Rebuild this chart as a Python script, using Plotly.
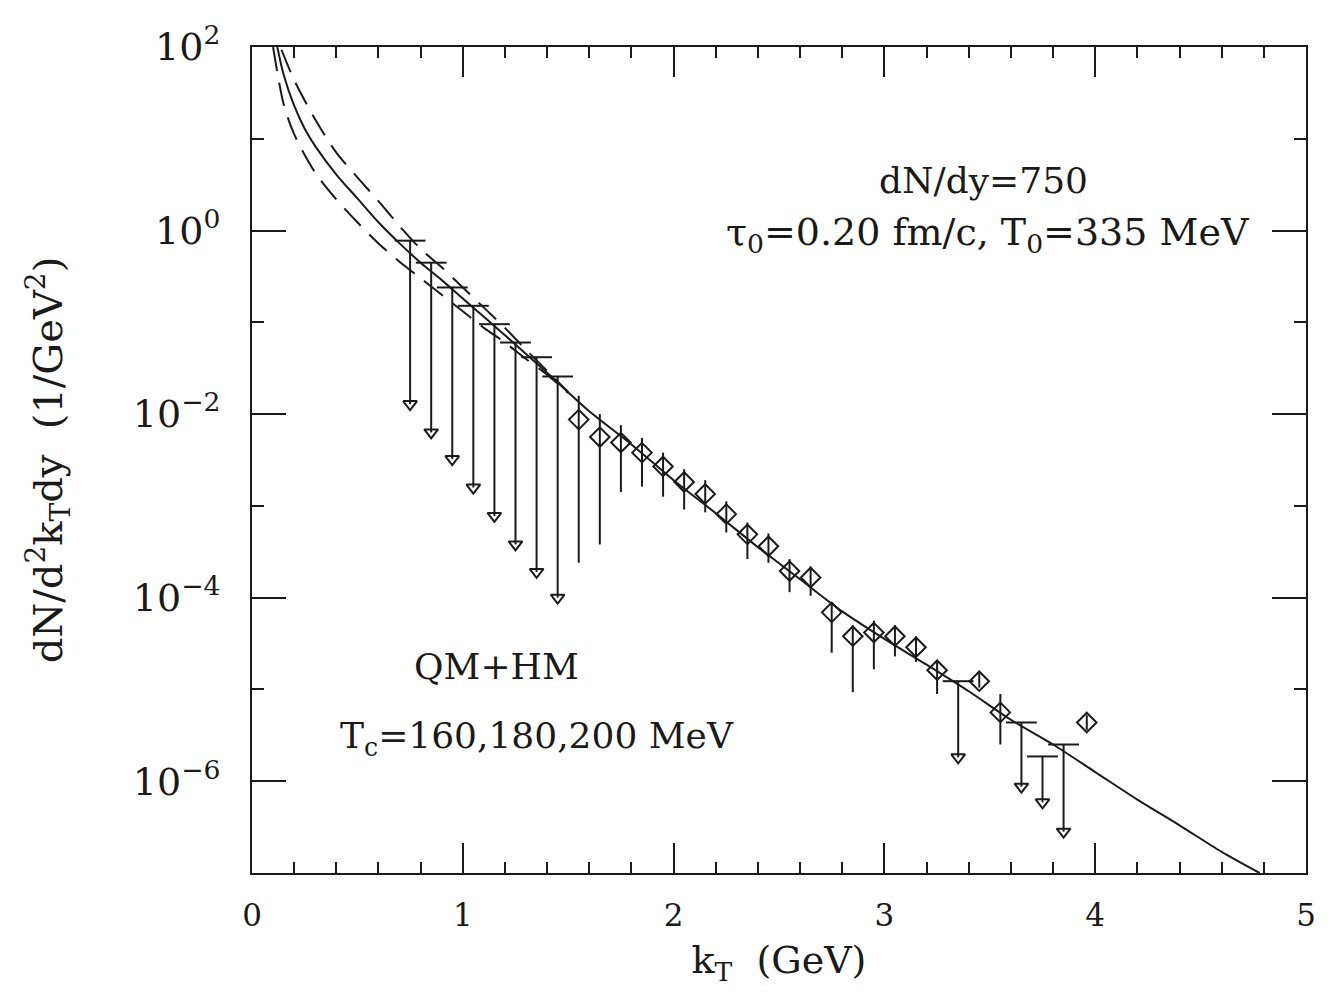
import numpy as np
import plotly.graph_objects as go

# ---- theory curves (log10 of dN/d2kT dy) ----
kt_solid = [0.12, 0.15, 0.2, 0.25, 0.3, 0.4, 0.5, 0.6, 0.7, 0.8, 0.9, 1.0, 1.1, 1.2, 1.4, 1.6,
            1.8, 2.0, 2.2, 2.4, 2.6, 2.8, 3.0, 3.2, 3.4, 3.6, 3.8, 4.0, 4.2, 4.4, 4.6, 4.78]
log_solid = [2.0, 1.70, 1.36, 1.11, 0.92, 0.61, 0.35, 0.09, -0.14, -0.35, -0.54, -0.74, -0.94,
             -1.14, -1.55, -1.97, -2.33, -2.72, -3.08, -3.45, -3.80, -4.15, -4.45, -4.73, -5.02,
             -5.33, -5.60, -5.90, -6.20, -6.48, -6.77, -7.0]

kt_dash_hi = [0.14, 0.2, 0.3, 0.4, 0.5, 0.6, 0.7, 0.8, 0.9, 1.0, 1.1, 1.2, 1.3, 1.4, 1.5]
log_dash_hi = [1.97, 1.64, 1.21, 0.85, 0.58, 0.32, 0.05, -0.20, -0.40, -0.62, -0.84, -1.06,
               -1.30, -1.53, -1.76]

kt_dash_lo = [0.10, 0.15, 0.2, 0.3, 0.4, 0.5, 0.6, 0.7, 0.8, 0.9, 1.0, 1.1, 1.2, 1.3, 1.4, 1.5]
log_dash_lo = [2.0, 1.38, 1.05, 0.63, 0.34, 0.09, -0.14, -0.34, -0.52, -0.70, -0.88, -1.06,
               -1.22, -1.40, -1.57, -1.77]

# ---- upper limits ----
kt_ul = [0.75, 0.85, 0.95, 1.05, 1.15, 1.25, 1.35, 1.45, 3.35, 3.65, 3.75, 3.85]
log_ul_top = [-0.11, -0.35, -0.62, -0.82, -1.02, -1.22, -1.38, -1.59, -4.91, -5.36, -5.73, -5.60]
log_ul_bot = [-1.89, -2.20, -2.49, -2.80, -3.11, -3.42, -3.72, -4.00, -5.74, -6.06, -6.23, -6.55]

# ---- measured points ----
kt_pts = [1.55, 1.65, 1.75, 1.85, 1.95, 2.05, 2.15, 2.25, 2.35, 2.45, 2.55, 2.65, 2.75, 2.85,
          2.95, 3.05, 3.15, 3.25, 3.45, 3.55, 3.96]
log_pts = [-2.06, -2.25, -2.31, -2.42, -2.57, -2.74, -2.87, -3.09, -3.31, -3.44, -3.71, -3.78,
           -4.16, -4.42, -4.38, -4.42, -4.54, -4.79, -4.91, -5.25, -5.36]
log_lo = [-3.62, -3.42, -2.85, -2.79, -2.90, -3.04, -3.07, -3.29, -3.58, -3.62, -3.94, -3.98,
          -4.60, -5.03, -4.78, -4.64, -4.70, -5.05, -4.98, -5.60, -5.44]
log_hi = [-1.80, -2.00, -2.12, -2.26, -2.42, -2.60, -2.72, -2.95, -3.18, -3.30, -3.58, -3.66,
          -4.05, -4.30, -4.25, -4.30, -4.42, -4.68, -4.82, -5.05, -5.28]

# ---- axis ticks ----
y_major_exp = [2, 0, -2, -4, -6]
y_minor_exp = [1, -1, -3, -5]
y_tick_text = ["10<sup>2</sup>", "10<sup>0</sup>", "10<sup>−2</sup>", "10<sup>−4</sup>",
               "10<sup>−6</sup>"]

p = lambda a: [10 ** v for v in a]
FONT = "DejaVu Serif"
BLACK = "#1a1a1a"

fig = go.Figure()
fig.add_trace(go.Scatter(x=kt_solid, y=p(log_solid), mode="lines",
                         line=dict(color=BLACK, width=2, shape="spline", smoothing=0.8),
                         showlegend=False))
for kx, ky in [(kt_dash_hi, log_dash_hi), (kt_dash_lo, log_dash_lo)]:
    fig.add_trace(go.Scatter(x=kx, y=p(ky), mode="lines",
                             line=dict(color=BLACK, width=2, dash="24px,12px",
                                       shape="spline", smoothing=0.8),
                             showlegend=False))

top = p(log_ul_top)
bot = p(log_ul_bot)
fig.add_trace(go.Scatter(
    x=kt_ul, y=top, mode="markers",
    marker=dict(symbol="line-ew", size=22, color=BLACK, line=dict(color=BLACK, width=2)),
    error_y=dict(type="data", symmetric=False, array=[0] * len(top),
                 arrayminus=[t - b for t, b in zip(top, bot)], width=0,
                 thickness=2, color=BLACK),
    showlegend=False))
fig.add_trace(go.Scatter(
    x=kt_ul, y=bot, mode="markers",
    marker=dict(symbol="triangle-down-open", size=12, color=BLACK,
                line=dict(color=BLACK, width=2)),
    showlegend=False))

yp = p(log_pts)
fig.add_trace(go.Scatter(
    x=kt_pts, y=yp, mode="markers",
    marker=dict(symbol="diamond-open", size=15, color=BLACK, line=dict(color=BLACK, width=2)),
    error_y=dict(type="data", symmetric=False,
                 array=[h - v for h, v in zip(p(log_hi), yp)],
                 arrayminus=[v - l for v, l in zip(yp, p(log_lo))],
                 width=0, thickness=2, color=BLACK),
    showlegend=False))

axis_common = dict(showline=True, linewidth=2, linecolor=BLACK, mirror="allticks",
                   ticks="inside", tickwidth=2, tickcolor=BLACK, showgrid=False,
                   zeroline=False)

fig.update_xaxes(range=[0, 5], dtick=1, tick0=0, ticklen=30,
                 tickfont=dict(family=FONT, size=31, color=BLACK),
                 minor=dict(dtick=0.2, tick0=0, ticklen=11, tickwidth=2, ticks="inside",
                            tickcolor=BLACK, showgrid=False),
                 title=dict(text="k<sub>T</sub>  (GeV)",
                            font=dict(family=FONT, size=38, color=BLACK), standoff=14),
                 ticklabelstandoff=14,
                 **axis_common)
fig.update_yaxes(type="log", range=[-7, 2], tickmode="array",
                 tickvals=[10 ** e for e in y_major_exp], ticktext=y_tick_text, ticklen=34,
                 tickfont=dict(family=FONT, size=38, color=BLACK),
                 minor=dict(tickmode="array", tickvals=[10 ** e for e in y_minor_exp],
                            ticklen=12, tickwidth=2, ticks="inside",
                            tickcolor=BLACK, showgrid=False),
                 title=dict(text="dN/d<sup>2</sup>k<sub>T</sub>dy  (1/GeV<sup>2</sup>)",
                            font=dict(family=FONT, size=40, color=BLACK), standoff=58),
                 ticklabelstandoff=22,
                 **axis_common)

ann_font = dict(family=FONT, size=36, color=BLACK)
fig.add_annotation(x=3.47, y=0.55, xref="x", yref="y", text="dN/dy=750",
                   showarrow=False, font=ann_font, xanchor="center", yanchor="middle")
fig.add_annotation(x=4.74, y=-0.04, xref="x", yref="y",
                   text="τ<sub>0</sub>=0.20 fm/c, T<sub>0</sub>=335 MeV",
                   showarrow=False, font=dict(family=FONT, size=38, color=BLACK),
                   xanchor="right", yanchor="middle")
fig.add_annotation(x=1.16, y=-4.75, xref="x", yref="y", text="QM+HM",
                   showarrow=False, font=ann_font, xanchor="center", yanchor="middle")
fig.add_annotation(x=0.41, y=-5.53, xref="x", yref="y",
                   text="T<sub>c</sub>=160,180,200 MeV",
                   showarrow=False, font=ann_font, xanchor="left", yanchor="middle")

fig.update_layout(width=1328, height=998, margin=dict(l=252, r=13, t=47, b=125),
                  paper_bgcolor="white", plot_bgcolor="white",
                  font=dict(family=FONT, color=BLACK))
fig.write_html("out.html")
